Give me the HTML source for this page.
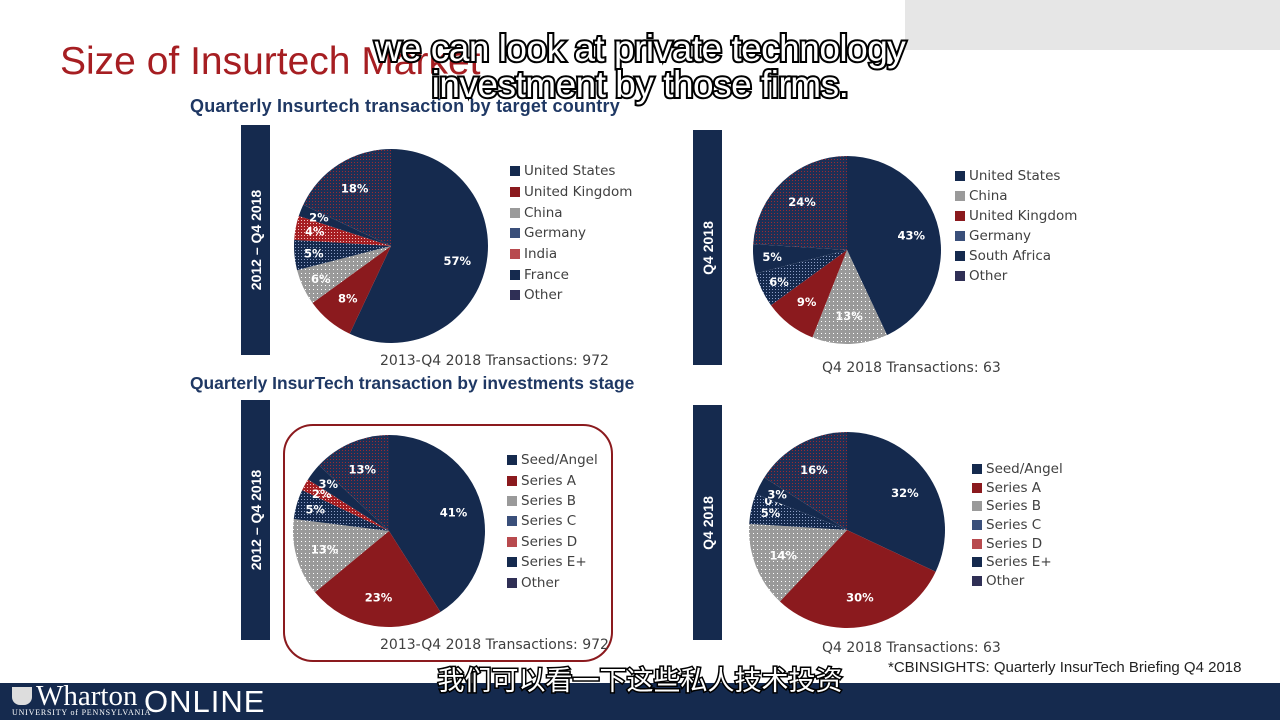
<!DOCTYPE html>
<html><head><meta charset="utf-8"><style>
body{margin:0;width:1280px;height:720px;overflow:hidden;background:#fff;font-family:"Liberation Sans","Noto Sans CJK SC",sans-serif;position:relative}
.abs{position:absolute}
.vbar{position:absolute;background:#152a4e;width:29px}
.vbar span{position:absolute;left:50%;top:50%;transform:translate(-50%,-50%) rotate(-90deg);color:#fff;font-weight:bold;font-size:14px;white-space:nowrap}
.sub{position:absolute;font-weight:bold;color:#1f3864;font-size:18px;white-space:nowrap}
.cap{position:absolute;color:#404040;font-size:14px;font-family:"DejaVu Sans",sans-serif}
.leg{position:absolute;font-family:"DejaVu Sans",sans-serif;font-size:13.5px;color:#404040}
.leg div{height:20.6px;display:flex;align-items:center}
.leg i{display:inline-block;width:10px;height:10px;margin-right:4px}
.subt{position:absolute;left:0;width:1280px;text-align:center;color:#fff;font-size:37px;-webkit-text-stroke:4px #000;paint-order:stroke fill;letter-spacing:-0.5px}
</style></head><body>
<div class="abs" style="left:905px;top:0;width:375px;height:50px;background:#e6e6e6"></div>
<div class="abs" style="left:60px;top:40px;font-size:39px;color:#a61e22;white-space:nowrap">Size of Insurtech Market</div>
<div class="sub" style="left:190px;top:96px;letter-spacing:0.2px">Quarterly Insurtech transaction by target country</div>
<div class="sub" style="left:190px;top:373px;font-size:17.4px">Quarterly InsurTech transaction by investments stage</div>
<div class="vbar" style="left:241px;top:125px;height:230px"><span>2012 – Q4 2018</span></div>
<div class="vbar" style="left:693px;top:130px;height:235px"><span>Q4 2018</span></div>
<div class="vbar" style="left:241px;top:400px;height:240px"><span>2012 – Q4 2018</span></div>
<div class="vbar" style="left:693px;top:405px;height:235px"><span>Q4 2018</span></div>
<div class="abs" style="left:283px;top:424px;width:326px;height:234px;border:2.5px solid #8b1a1e;border-radius:30px"></div>
<div class="cap" style="left:380px;top:353px">2013-Q4 2018 Transactions: 972</div>
<div class="cap" style="left:822px;top:360px">Q4 2018 Transactions: 63</div>
<div class="cap" style="left:380px;top:637px">2013-Q4 2018 Transactions: 972</div>
<div class="cap" style="left:822px;top:640px">Q4 2018 Transactions: 63</div>
<div class="abs" style="left:888px;top:659px;font-size:15px;color:#222">*CBINSIGHTS: Quarterly InsurTech Briefing Q4 2018</div>
<svg class="abs" style="left:0;top:0" width="1280" height="720" id="svg">
<defs>
<pattern id="pOther" width="3" height="3" patternUnits="userSpaceOnUse"><rect width="3" height="3" fill="#1e2f55"/><rect x="0" y="0" width="1" height="1" fill="#9b2a30"/></pattern>
<pattern id="pGrey" width="4" height="4" patternUnits="userSpaceOnUse"><rect width="4" height="4" fill="#9a9a9a"/><rect x="1" y="1" width="1" height="1" fill="#fff"/></pattern>
<pattern id="pBlue" width="3" height="3" patternUnits="userSpaceOnUse"><rect width="3" height="3" fill="#152a4e"/><rect x="1" y="1" width="1" height="1" fill="#8fa0c8"/></pattern>
<pattern id="pRed" width="3" height="3" patternUnits="userSpaceOnUse"><rect width="3" height="3" fill="#a61e22"/><rect x="1" y="1" width="1" height="1" fill="#f0c0c0"/></pattern>
</defs>
</svg>
<div class="subt" style="top:28px">we can look at private technology</div>
<div class="subt" style="top:64px">investment by those firms.</div>
<div class="abs" style="left:0;width:1280px;text-align:center;top:659px;font-size:27px;color:#fff;-webkit-text-stroke:3px #000;paint-order:stroke fill;font-family:'Noto Sans CJK SC',sans-serif">我们可以看一下这些私人技术投资</div>
<div class="abs" style="left:0;top:683px;width:1280px;height:37px;background:#152a4e;z-index:-1"></div>
<div class="abs" style="left:12px;top:683px;color:#fff">
<div style="position:absolute;left:0;top:4px;width:20px;height:18px;background:#ddd;border-radius:0 0 8px 8px"></div>
<div style="position:absolute;left:24px;top:-3px;font-family:'Liberation Serif',serif;font-size:29px;white-space:nowrap">Wharton</div>
<div style="position:absolute;left:0;top:25px;font-family:'Liberation Serif',serif;font-size:8px;white-space:nowrap;letter-spacing:0.8px">UNIVERSITY of PENNSYLVANIA</div>
<div style="position:absolute;left:132px;top:1px;font-size:31px;white-space:nowrap;letter-spacing:1px">ONLINE</div>
</div>
<script>
const tlCats=["United States","United Kingdom","China","Germany","India","France","Other"];
const tlVals=[57,8,6,5,4,2,18];
const trCats=["United States","China","United Kingdom","Germany","South Africa","Other"];
const trVals=[43,13,9,6,5,24];
const stageCats=["Seed/Angel","Series A","Series B","Series C","Series D","Series E+","Other"];
const blVals=[41,23,13,5,2,3,13];
const brVals=[32,30,14,5,0,3,16];
const fillMap={"United States":"#152a4e","United Kingdom":"#8b1a1e","China":"url(#pGrey)","Germany":"url(#pBlue)","India":"url(#pRed)","France":"#152a4e","South Africa":"#152a4e","Other":"url(#pOther)",
"Seed/Angel":"#152a4e","Series A":"#8b1a1e","Series B":"url(#pGrey)","Series C":"url(#pBlue)","Series D":"url(#pRed)","Series E+":"#152a4e"};
const svg=document.getElementById('svg');
const NS='http://www.w3.org/2000/svg';
function pie(name,cx,cy,r,cats,vals){
  const tot=vals.reduce((a,b)=>a+b,0);let a0=0;
  cats.forEach((c,i)=>{
    const v=vals[i];const a1=a0+v/tot*2*Math.PI;
    const p=document.createElementNS(NS,'path');
    const x0=cx+r*Math.sin(a0),y0=cy-r*Math.cos(a0),x1=cx+r*Math.sin(a1),y1=cy-r*Math.cos(a1);
    p.setAttribute('d',`M${cx},${cy}L${x0},${y0}A${r},${r} 0 ${a1-a0>Math.PI?1:0} 1 ${x1},${y1}Z`);
    p.setAttribute('fill',fillMap[c]);
    
    
    svg.appendChild(p);
    const m=(a0+a1)/2,lr=r*(v<8?0.8:0.7);
    const t=document.createElementNS(NS,'text');
    t.setAttribute('x',cx+lr*Math.sin(m));t.setAttribute('y',cy-lr*Math.cos(m)+4);
    t.setAttribute('text-anchor','middle');t.setAttribute('fill','#fff');
    t.setAttribute('font-size','11.5');t.setAttribute('font-weight','bold');
    t.setAttribute('font-family','DejaVu Sans, sans-serif');
    t.textContent=v+'%';
    
    
    svg.appendChild(t);
    a0=a1;
  });
}
function legend(name,x,y,sp,cats){
  const d=document.createElement('div');d.className='leg';d.style.left=x+'px';d.style.top=y+'px';
  
  
  cats.forEach(c=>{const e=document.createElement('div');e.style.height=sp+'px';
    
    
    const sw=document.createElement('i');sw.style.background=fillMap[c].startsWith('url')?({"url(#pGrey)":"#9a9a9a","url(#pBlue)":"#3a4f7a","url(#pRed)":"#b84a4e","url(#pOther)":"#2f2f55"})[fillMap[c]]:fillMap[c];
    e.appendChild(sw);e.appendChild(document.createTextNode(c));d.appendChild(e);});
  document.body.appendChild(d);
}
pie('pie-country-all',391,246,97,tlCats,tlVals);
pie('pie-country-q4',847,250,94,trCats,trVals);
pie('pie-stage-all',389,531,96,stageCats,blVals);
pie('pie-stage-q4',847,530,98,stageCats,brVals);
legend('legend-country-all',510,161,20.7,tlCats);
legend('legend-country-q4',955,166,20,trCats);
legend('legend-stage-all',507,450,20.4,stageCats);
legend('legend-stage-q4',972,460,18.6,stageCats);
</script>
</body></html>
